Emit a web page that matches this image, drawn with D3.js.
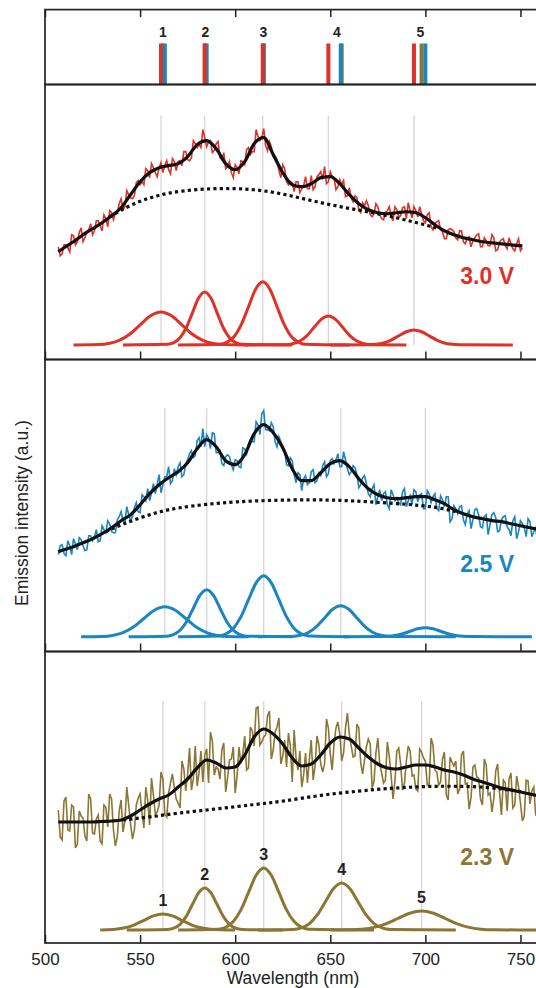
<!DOCTYPE html>
<html>
<head>
<meta charset="utf-8">
<script src="https://cdn.jsdelivr.net/npm/d3@7"></script>
<style>
  body { margin: 0; background: #fff; }
  svg { display: block; font-family: "Liberation Sans", Arial, sans-serif; }
</style>
</head>
<body>
<svg id="drawing_region"></svg>
<script>
// axis + labels
var wavelengthTicks = [500, 550, 600, 650, 700, 750];
var peakNames = ['1', '2', '3', '4', '5'];
var voltages = ['3.0 V', '2.5 V', '2.3 V'];

// peak centres (nm) of the five Gaussian components
var centers30 = [561, 584, 614.5, 649, 694];
var centers25 = [563, 585, 615, 655.5, 700];
var centers23 = [562, 584, 615, 656, 698];

// raw spectra (a.u.), one sample per nm from 507 nm
var rawStart = 507;
var raw30 = [98, 89, 91, 100, 100, 97, 93, 110, 109, 100,
  103, 112, 117, 103, 107, 113, 115, 121, 110, 114,
  124, 124, 119, 114, 130, 126, 118, 134, 132, 125,
  131, 132, 141, 146, 135, 138, 154, 150, 147, 146,
  149, 162, 164, 160, 163, 160, 176, 174, 167, 181,
  177, 172, 168, 177, 182, 172, 179, 184, 175, 171,
  186, 183, 174, 183, 184, 179, 193, 193, 185, 184,
  187, 204, 201, 197, 200, 197, 215, 207, 198, 203,
  204, 192, 194, 201, 203, 187, 185, 192, 176, 178,
  183, 172, 167, 180, 177, 171, 184, 183, 180, 195,
  197, 190, 193, 193, 215, 208, 204, 207, 216, 199,
  194, 203, 198, 188, 188, 185, 174, 167, 180, 176,
  163, 160, 163, 162, 153, 163, 163, 152, 156, 159,
  168, 156, 156, 169, 155, 158, 168, 170, 173, 165,
  178, 161, 163, 173, 168, 167, 155, 158, 165, 160,
  164, 148, 149, 157, 147, 143, 149, 147, 135, 132,
  142, 139, 144, 139, 130, 128, 131, 141, 138, 130,
  126, 125, 132, 134, 138, 129, 124, 138, 135, 128,
  129, 137, 138, 126, 142, 134, 127, 138, 134, 128,
  138, 131, 124, 122, 130, 132, 118, 115, 121, 123,
  124, 115, 113, 106, 106, 115, 116, 115, 113, 107,
  105, 114, 114, 103, 101, 107, 108, 98, 104, 107,
  110, 111, 98, 98, 107, 104, 99, 99, 110, 107,
  94, 95, 103, 105, 106, 99, 96, 107, 101, 96,
  94, 101, 106, 94, 97];
var raw25 = [82, 91, 92, 83, 81, 96, 91, 82, 98, 93,
  87, 99, 97, 91, 86, 87, 101, 101, 96, 100,
  107, 95, 96, 111, 107, 104, 116, 113, 105, 104,
  104, 117, 120, 125, 116, 114, 130, 122, 116, 120,
  129, 134, 125, 124, 142, 140, 136, 148, 136, 144,
  153, 143, 152, 162, 144, 152, 160, 160, 170, 153,
  156, 168, 162, 170, 174, 160, 162, 173, 177, 183,
  186, 179, 181, 196, 199, 190, 208, 190, 202, 199,
  188, 204, 203, 184, 184, 186, 173, 171, 180, 182,
  180, 172, 167, 177, 176, 170, 169, 189, 188, 183,
  193, 197, 195, 195, 215, 212, 202, 223, 226, 207,
  207, 206, 214, 210, 195, 190, 200, 195, 190, 186,
  172, 171, 179, 176, 162, 154, 164, 162, 146, 158,
  161, 152, 154, 165, 167, 154, 156, 164, 161, 171,
  175, 160, 163, 176, 178, 173, 177, 183, 170, 170,
  185, 177, 168, 162, 165, 171, 169, 162, 149, 152,
  159, 161, 153, 143, 140, 148, 152, 132, 140, 147,
  136, 143, 145, 132, 128, 147, 142, 136, 139, 134,
  132, 145, 148, 130, 136, 141, 132, 147, 145, 135,
  142, 143, 128, 128, 146, 143, 134, 140, 143, 128,
  126, 141, 137, 130, 140, 140, 115, 118, 131, 128,
  123, 130, 131, 117, 112, 123, 126, 108, 117, 127,
  128, 122, 110, 109, 120, 122, 102, 112, 122, 124,
  119, 105, 106, 117, 120, 121, 110, 107, 101, 116,
  120, 98, 105, 116, 113, 109, 100, 118, 115, 100,
  105, 109, 94];
var raw23 = [120, 93, 90, 129, 133, 100, 99, 125, 123, 82,
  86, 119, 114, 112, 94, 89, 136, 131, 97, 96,
  111, 115, 89, 86, 125, 123, 103, 136, 131, 100,
  84, 93, 119, 130, 98, 109, 143, 125, 106, 91,
  100, 125, 132, 136, 117, 102, 143, 130, 105, 152,
  135, 116, 118, 125, 158, 151, 116, 113, 137, 147,
  156, 142, 131, 127, 122, 169, 161, 139, 156, 182,
  140, 151, 184, 144, 157, 179, 148, 175, 181, 147,
  198, 189, 155, 163, 161, 151, 180, 187, 138, 152,
  170, 171, 183, 137, 154, 183, 167, 176, 194, 160,
  162, 203, 199, 184, 222, 223, 185, 188, 193, 195,
  214, 219, 171, 180, 198, 203, 212, 166, 174, 190,
  163, 197, 184, 148, 200, 172, 160, 179, 143, 155,
  177, 147, 171, 190, 150, 164, 194, 185, 166, 158,
  166, 211, 202, 176, 160, 187, 202, 208, 196, 169,
  177, 202, 217, 196, 184, 173, 174, 206, 202, 167,
  156, 170, 183, 191, 186, 142, 149, 177, 192, 166,
  157, 147, 150, 188, 174, 154, 131, 149, 179, 182,
  166, 140, 147, 169, 184, 179, 154, 155, 141, 139,
  181, 178, 172, 169, 145, 146, 192, 185, 160, 158,
  145, 148, 171, 178, 135, 130, 173, 168, 164, 169,
  136, 141, 175, 179, 146, 147, 121, 132, 163, 165,
  153, 152, 131, 125, 171, 165, 135, 137, 118, 132,
  159, 166, 137, 115, 150, 147, 119, 151, 157, 122,
  125, 154, 143, 127, 109, 114, 150, 149, 126, 139,
  143, 115, 115];

// total fit [nm, a.u.]
var fit30 = [[507,93],[510,97],[515,103],[520,110],[525,116],[530,122],[535,129],[540,137],[545,150],[550,163],
  [555,172],[560,177],[565,179],[570,181],[575,188],[580,200],[585,204],[590,196],[595,181],[600,175],
  [605,183],[610,201],[615,207],[620,190],[625,172],[630,160],[635,158],[640,161],[645,167],[650,168],
  [655,161],[660,150],[665,141],[670,135],[675,132],[680,131],[685,132],[690,133],[695,132],[700,127],
  [705,120],[710,114],[715,110],[720,107],[725,105],[730,103],[735,102],[740,101],[745,100],[751,99]];
var fit25 = [[507,85],[510,87],[515,90],[520,94],[525,98],[530,103],[535,109],[540,116],[545,122],[550,132],
  [555,143],[560,152],[565,159],[570,165],[575,174],[580,188],[585,197],[590,190],[595,176],[600,172],
  [605,182],[610,203],[615,212],[620,204],[625,189],[630,168],[635,156],[640,156],[645,164],[650,173],
  [655,176],[660,170],[665,158],[670,148],[675,142],[680,139],[685,138],[690,139],[695,140],[700,140],
  [705,137],[710,133],[715,127],[720,123],[725,120],[730,118],[735,116],[740,115],[745,113],[750,111],
  [755,109],[760,107]];
var fit23 = [[507,108],[515,108],[525,108],[530,108.5],[535,109],[540,110],[545,114],[550,120],[555,126],
  [560,131],[565,135],[570,143],[575,151],[580,162],[585,170],[590,167],[595,162],[600,163],[605,175],
  [610,193],[615,201],[620,196],[625,186],[630,172],[635,164],[640,166],[645,175],[650,187],[655,193],
  [660,191],[665,182],[670,173],[675,166],[680,162],[685,161],[690,163],[695,165],[700,165],[705,163],
  [710,160],[715,158],[720,155],[725,151],[730,148],[735,145],[740,142],[745,140],[750,138],[755,136],
  [760,134]];

// broad background (dotted)
var bg30 = [[534,128],[545,140],[555,147],[565,152],[580,155.5],[595,156.5],[610,155.5],[625,151],
  [640,144],[655,138],[670,133],[685,127],[700,120],[707,116]];
var bg25 = [[532,105],[540,112],[550,119],[560,125],[570,129],[585,132.5],[600,135],[620,136.5],
  [640,137],[655,136.5],[670,135],[690,132.5],[705,130],[716,125]];
var bg23 = [[541,110],[555,113],[570,117],[590,121],[610,125.5],[625,128.5],[645,135],[665,139],
  [681,141.7],[698,143.5],[715,144],[733,143],[751,138.3]];

// Gaussian components [nm, a.u.]
var gauss30 = [
  [[515,0],[528,0.4],[533.5,1.4],[539,4.5],[544.5,10.7],[550,20],[555.5,29.1],[561,33],[566.5,29.1],[572,20],[577.5,10.7],[583,4.5],[588.5,1.4],[594,0.4],[607,0]],
  [[541,0],[564.5,0.6],[567.75,2.3],[571,7.2],[574.25,17.2],[577.5,32.1],[580.75,46.8],[584,53],[587.25,46.8],[590.5,32.1],[593.75,17.2],[597,7.2],[600.25,2.3],[603.5,0.6],[630,0]],
  [[570,0],[592,0.7],[595.75,2.8],[599.5,8.5],[603.25,20.5],[607,38.2],[610.75,55.6],[614.5,63],[618.25,55.6],[622,38.2],[625.75,20.5],[629.5,8.5],[633.25,2.8],[637,0.7],[660,0]],
  [[605,0],[626.5,0.3],[630.25,1.3],[634,3.9],[637.75,9.4],[641.5,17.6],[645.25,25.6],[649,29],[652.75,25.6],[656.5,17.6],[660.25,9.4],[664,3.9],[667.75,1.3],[671.5,0.3],[690,0]],
  [[650,0],[670,0.2],[674,0.7],[678,2],[682,4.9],[686,9.1],[690,13.2],[694,15],[698,13.2],[702,9.1],[706,4.9],[710,2],[714,0.7],[718,0.2],[746,0]]
];
var gauss25 = [
  [[519,0],[530,0.3],[535.5,1.3],[541,4.1],[546.5,9.7],[552,18.2],[557.5,26.5],[563,30],[568.5,26.5],[574,18.2],[579.5,9.7],[585,4.1],[590.5,1.3],[596,0.3],[607,0]],
  [[544,0],[564,0.5],[567.5,2.1],[571,6.4],[574.5,15.3],[578,28.5],[581.5,41.5],[585,47],[588.5,41.5],[592,28.5],[595.5,15.3],[599,6.4],[602.5,2.1],[606,0.5],[630,0]],
  [[570,0],[591,0.7],[595,2.7],[599,8.3],[603,19.8],[607,37],[611,53.8],[615,61],[619,53.8],[623,37],[627,19.8],[631,8.3],[635,2.7],[639,0.7],[660,0]],
  [[612,0],[630,0.3],[634.25,1.4],[638.5,4.2],[642.75,10.1],[647,18.8],[651.25,27.4],[655.5,31],[659.75,27.4],[664,18.8],[668.25,10.1],[672.5,4.2],[676.75,1.4],[681,0.3],[716,0]],
  [[657,0],[676,0.1],[680,0.4],[684,1.2],[688,2.9],[692,5.5],[696,7.9],[700,9],[704,7.9],[708,5.5],[712,2.9],[716,1.2],[720,0.4],[724,0.1],[756,0]]
];
var gauss23 = [
  [[529,0],[532,0.2],[537,0.7],[542,2.2],[547,5.2],[552,9.7],[557,14.1],[562,16],[567,14.1],[572,9.7],[577,5.2],[582,2.2],[587,0.7],[592,0.2],[600,0]],
  [[543,0],[564.5,0.5],[567.75,1.8],[571,5.7],[574.25,13.6],[577.5,25.5],[580.75,37.1],[584,42],[587.25,37.1],[590.5,25.5],[593.75,13.6],[597,5.7],[600.25,1.8],[603.5,0.5],[625,0]],
  [[570,0],[591,0.7],[595,2.7],[599,8.4],[603,20.1],[607,37.6],[611,54.7],[615,62],[619,54.7],[623,37.6],[627,20.1],[631,8.4],[635,2.7],[639,0.7],[673,0]],
  [[612,0],[630.5,0.5],[634.75,2.1],[639,6.4],[643.25,15.3],[647.5,28.5],[651.75,41.5],[656,47],[660.25,41.5],[664.5,28.5],[668.75,15.3],[673,6.4],[677.25,2.1],[681.5,0.5],[716,0]],
  [[650,0],[660.5,0.2],[666.75,0.8],[673,2.6],[679.25,6.2],[685.5,11.5],[691.75,16.8],[698,19],[704.25,16.8],[710.5,11.5],[716.75,6.2],[723,2.6],[729.25,0.8],[735.5,0.2],[770,0]]
];

var colors = ['#de3128', '#1a86c1', '#8c7633'];

var series = [
  { raw: raw30, fit: fit30, bg: bg30, gauss: gauss30, centers: centers30, color: colors[0], label: voltages[0] },
  { raw: raw25, fit: fit25, bg: bg25, gauss: gauss25, centers: centers25, color: colors[1], label: voltages[1] },
  { raw: raw23, fit: fit23, bg: bg23, gauss: gauss23, centers: centers23, color: colors[2], label: voltages[2] }
];

// layout (pixels)
var width = 536, height = 988;
var left = 45, right = 558.5;
var strip = { top: 9.6, bottom: 84.5, barTop: 43.5 };
var panels = [
  { top: 84.5, bottom: 359.5, lo: -14.5, hi: 260, labelAt: 61 },
  { top: 359.5, bottom: 651.5, lo: -14.8, hi: 277.2, labelAt: 65 },
  { top: 651.5, bottom: 943, lo: -13, hi: 278.5, labelAt: 65 }
];
var guideTop = 229;
var frameColor = '#222';

var svg = d3.select('#drawing_region')
    .attr('width', width)
    .attr('height', height);

var xScale = d3.scaleLinear()
    .domain([500, 770])
    .range([left, right]);

// ---- top strip with peak positions ----
svg.append('g')
    .attr('transform', 'translate(0,' + strip.top + ')')
    .call(d3.axisTop(xScale).tickValues(wavelengthTicks).tickSizeInner(-7.5).tickSizeOuter(0).tickFormat(''))
    .call(g => g.select('.domain').remove())
    .selectAll('line').attr('stroke', frameColor).attr('stroke-width', 1.5);

// draw gold first, red last (as in the figure)
[2, 1, 0].forEach(function(i) {
    svg.append('g').selectAll('rect')
        .data(series[i].centers)
        .enter()
        .append('rect')
        .attr('x', d => xScale(d) - 2)
        .attr('y', strip.barTop)
        .attr('width', 4)
        .attr('height', strip.bottom - strip.barTop)
        .attr('fill', series[i].color);
});

svg.append('g').selectAll('text')
    .data(peakNames)
    .enter()
    .append('text')
    .attr('x', (d, k) => xScale(d3.mean(series, s => s.centers[k])))
    .attr('y', 37)
    .attr('text-anchor', 'middle')
    .style('font-size', '14px')
    .style('font-weight', 'bold')
    .attr('fill', '#222')
    .text(d => d);

svg.append('rect')
    .attr('x', left)
    .attr('y', strip.top)
    .attr('width', right - left)
    .attr('height', strip.bottom - strip.top)
    .attr('fill', 'none')
    .attr('stroke', frameColor)
    .attr('stroke-width', 1.7);

// ---- spectra panels ----
panels.forEach(function(p, i) {
    var s = series[i];
    var yScale = d3.scaleLinear()
        .domain([p.lo, p.hi])
        .range([p.bottom, p.top]);

    var line = d3.line()
        .x(d => xScale(d[0]))
        .y(d => yScale(d[1]));

    var g = svg.append('g');

    g.selectAll('line.guide')
        .data(s.centers)
        .enter()
        .append('line')
        .attr('class', 'guide')
        .attr('x1', d => xScale(d))
        .attr('x2', d => xScale(d))
        .attr('y1', yScale(0))
        .attr('y2', yScale(guideTop))
        .attr('stroke', '#d6d6d6')
        .attr('stroke-width', 1.3);

    // Gaussian components
    g.selectAll('path.gauss')
        .data(s.gauss)
        .enter()
        .append('path')
        .attr('class', 'gauss')
        .attr('d', line.curve(d3.curveMonotoneX))
        .attr('fill', 'none')
        .attr('stroke', s.color)
        .attr('stroke-width', 3);

    // raw spectrum
    var rawPts = s.raw.map((v, j) => [rawStart + j, v]);
    g.append('path')
        .datum(rawPts)
        .attr('d', d3.line().x(d => xScale(d[0])).y(d => yScale(d[1])))
        .attr('fill', 'none')
        .attr('stroke', s.color)
        .attr('stroke-width', 1.6);

    // background
    g.append('path')
        .datum(s.bg)
        .attr('d', d3.line().x(d => xScale(d[0])).y(d => yScale(d[1])).curve(d3.curveBasis))
        .attr('fill', 'none')
        .attr('stroke', '#111')
        .attr('stroke-width', 3.2)
        .attr('stroke-dasharray', '3.2,3.2');

    // fit
    g.append('path')
        .datum(s.fit)
        .attr('d', d3.line().x(d => xScale(d[0])).y(d => yScale(d[1])).curve(d3.curveMonotoneX))
        .attr('fill', 'none')
        .attr('stroke', '#111')
        .attr('stroke-width', 3.2);

    g.append('text')
        .attr('x', 514)
        .attr('y', yScale(p.labelAt))
        .attr('text-anchor', 'end')
        .style('font-size', '23px')
        .style('font-weight', 'bold')
        .attr('fill', s.color)
        .text(s.label);

    if (i === 2) {
        g.selectAll('text.peak')
            .data(s.gauss)
            .enter()
            .append('text')
            .attr('class', 'peak')
            .attr('x', (d, k) => xScale(s.centers[k]))
            .attr('y', d => yScale(d3.max(d, e => e[1]) + 8.5))
            .attr('text-anchor', 'middle')
            .style('font-size', '16px')
            .style('font-weight', 'bold')
            .attr('fill', '#222')
            .text((d, k) => peakNames[k]);
    }

    var axis = g.append('g')
        .attr('transform', 'translate(0,' + p.bottom + ')')
        .call(d3.axisBottom(xScale).tickValues(wavelengthTicks).tickSizeInner(-8).tickSizeOuter(0).tickPadding(10)
            .tickFormat(i === 2 ? d3.format('d') : ''));
    axis.select('.domain').remove();
    axis.selectAll('line').attr('stroke', frameColor).attr('stroke-width', 1.5);
    axis.selectAll('text')
        .attr('fill', '#222')
        .style('font-size', '17px')
        .style('font-family', '"Liberation Sans", Arial, sans-serif');

    g.append('rect')
        .attr('x', left)
        .attr('y', p.top)
        .attr('width', right - left)
        .attr('height', p.bottom - p.top)
        .attr('fill', 'none')
        .attr('stroke', frameColor)
        .attr('stroke-width', 1.7);
});

svg.append('text')
    .attr('x', 293)
    .attr('y', 984)
    .attr('text-anchor', 'middle')
    .style('font-size', '17.5px')
    .attr('fill', '#222')
    .text('Wavelength (nm)');

svg.append('text')
    .attr('transform', 'translate(27.5,513) rotate(-90)')
    .attr('text-anchor', 'middle')
    .style('font-size', '17.5px')
    .attr('fill', '#222')
    .text('Emission intensity (a.u.)');
</script>
</body>
</html>
